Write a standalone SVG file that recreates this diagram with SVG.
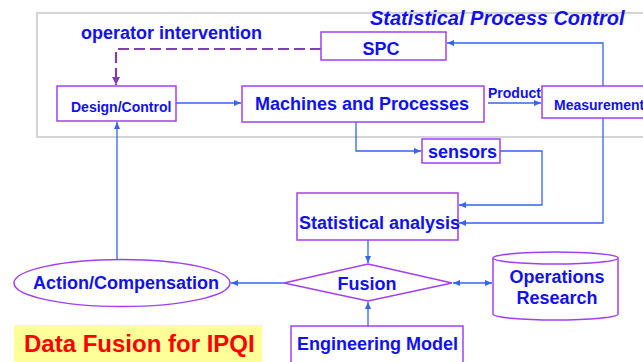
<svg xmlns="http://www.w3.org/2000/svg" width="643" height="362" viewBox="0 0 643 362">
<defs>
<style>
text{font-family:"Liberation Sans",Arial,sans-serif;font-weight:bold;fill:#1010F0}
.box{fill:#fff;stroke:#A040F0;stroke-width:1.5}
.con{fill:none;stroke:#3366EE;stroke-width:1.3}
.dash{fill:none;stroke:#8040B0;stroke-width:2.2;stroke-dasharray:11 5}
.s18{font-size:18px}
.s14{font-size:14px}
</style>
<marker id="ah" markerUnits="userSpaceOnUse" markerWidth="8" markerHeight="8" refX="7" refY="4" orient="auto">
<path d="M0,1 L7,4 L0,7 Z" fill="#3366EE"/>
</marker>
<marker id="ahs" markerUnits="userSpaceOnUse" markerWidth="8" markerHeight="8" refX="0" refY="4" orient="auto">
<path d="M7,1 L0,4 L7,7 Z" fill="#3366EE"/>
</marker>
<marker id="ahp" markerUnits="userSpaceOnUse" markerWidth="10" markerHeight="10" refX="8" refY="5" orient="auto">
<path d="M0,1 L8,5 L0,9 Z" fill="#8040B0"/>
</marker>
</defs>
<rect x="0" y="0" width="643" height="362" fill="#fff"/>
<rect x="37" y="13" width="630" height="124" fill="none" stroke="#D4D4D4" stroke-width="2"/>
<text x="370" y="25" font-size="20" font-style="italic">Statistical Process Control</text>
<text x="81" y="39" class="s18">operator intervention</text>
<rect x="14" y="325" width="248" height="45" fill="#FFFF99"/>
<text x="24" y="352" font-size="24" style="fill:#FF0000">Data Fusion for IPQI</text>
<g id="connectors">
<polyline class="dash" points="321,49 116,49 116,85" marker-end="url(#ahp)"/>
<line class="con" x1="176" y1="103" x2="241" y2="103" marker-end="url(#ah)"/>
<line class="con" x1="488" y1="103" x2="541" y2="103" marker-end="url(#ah)"/>
<polyline class="con" points="603,86 603,43 447,43" marker-end="url(#ah)"/>
<polyline class="con" points="356,122 356,151 421,151" marker-end="url(#ah)"/>
<polyline class="con" points="500,151 542,151 542,205 459,205" marker-end="url(#ah)"/>
<polyline class="con" points="603,118 603,223 459,223" marker-end="url(#ah)"/>
<line class="con" x1="368" y1="240" x2="368" y2="263" marker-end="url(#ah)"/>
<line class="con" x1="368" y1="326" x2="368" y2="302" marker-end="url(#ah)"/>
<line class="con" x1="284" y1="283" x2="231" y2="283" marker-end="url(#ah)"/>
<line class="con" x1="117" y1="259" x2="117" y2="122" marker-end="url(#ah)"/>
<line class="con" x1="453" y1="283" x2="492" y2="283" marker-start="url(#ahs)" marker-end="url(#ah)"/>
</g>
<g id="spc">
<rect class="box" x="321" y="32" width="125" height="28"/>
<text x="381" y="55" class="s18" text-anchor="middle">SPC</text>
</g>
<g id="design">
<rect class="box" x="57" y="86" width="119" height="35"/>
<text x="71" y="112" class="s14">Design/Control</text>
</g>
<g id="machines">
<rect class="box" x="242" y="86" width="242" height="36"/>
<text x="255" y="110" class="s18">Machines and Processes</text>
</g>
<text x="488" y="98" class="s14">Product</text>
<g id="measurement">
<rect class="box" x="542" y="86" width="120" height="32"/>
<text x="554" y="110" class="s14">Measurement</text>
</g>
<g id="sensors">
<rect class="box" x="422" y="139" width="78" height="24"/>
<text x="428" y="158" class="s18">sensors</text>
</g>
<g id="stat">
<rect class="box" x="297" y="193" width="161" height="47"/>
<text x="299" y="229" class="s18">Statistical analysis</text>
</g>
<g id="fusion">
<polygon class="box" points="368,264 452,283 368,301 284,283"/>
<text x="367" y="290" class="s18" text-anchor="middle">Fusion</text>
</g>
<g id="action">
<ellipse class="box" cx="122" cy="283" rx="108" ry="23.5"/>
<text x="33" y="289" class="s18">Action/Compensation</text>
</g>
<g id="or">
<path class="box" d="M493,258 L493,314 A62.5,6 0 0 0 618,314 L618,258"/>
<ellipse class="box" cx="555.5" cy="258" rx="62.5" ry="6"/>
<text x="557" y="283" class="s18" text-anchor="middle">Operations</text>
<text x="557" y="304" class="s18" text-anchor="middle">Research</text>
</g>
<g id="engmodel">
<rect class="box" x="291" y="326" width="172" height="45"/>
<text x="297" y="350" class="s18">Engineering Model</text>
</g>
</svg>
